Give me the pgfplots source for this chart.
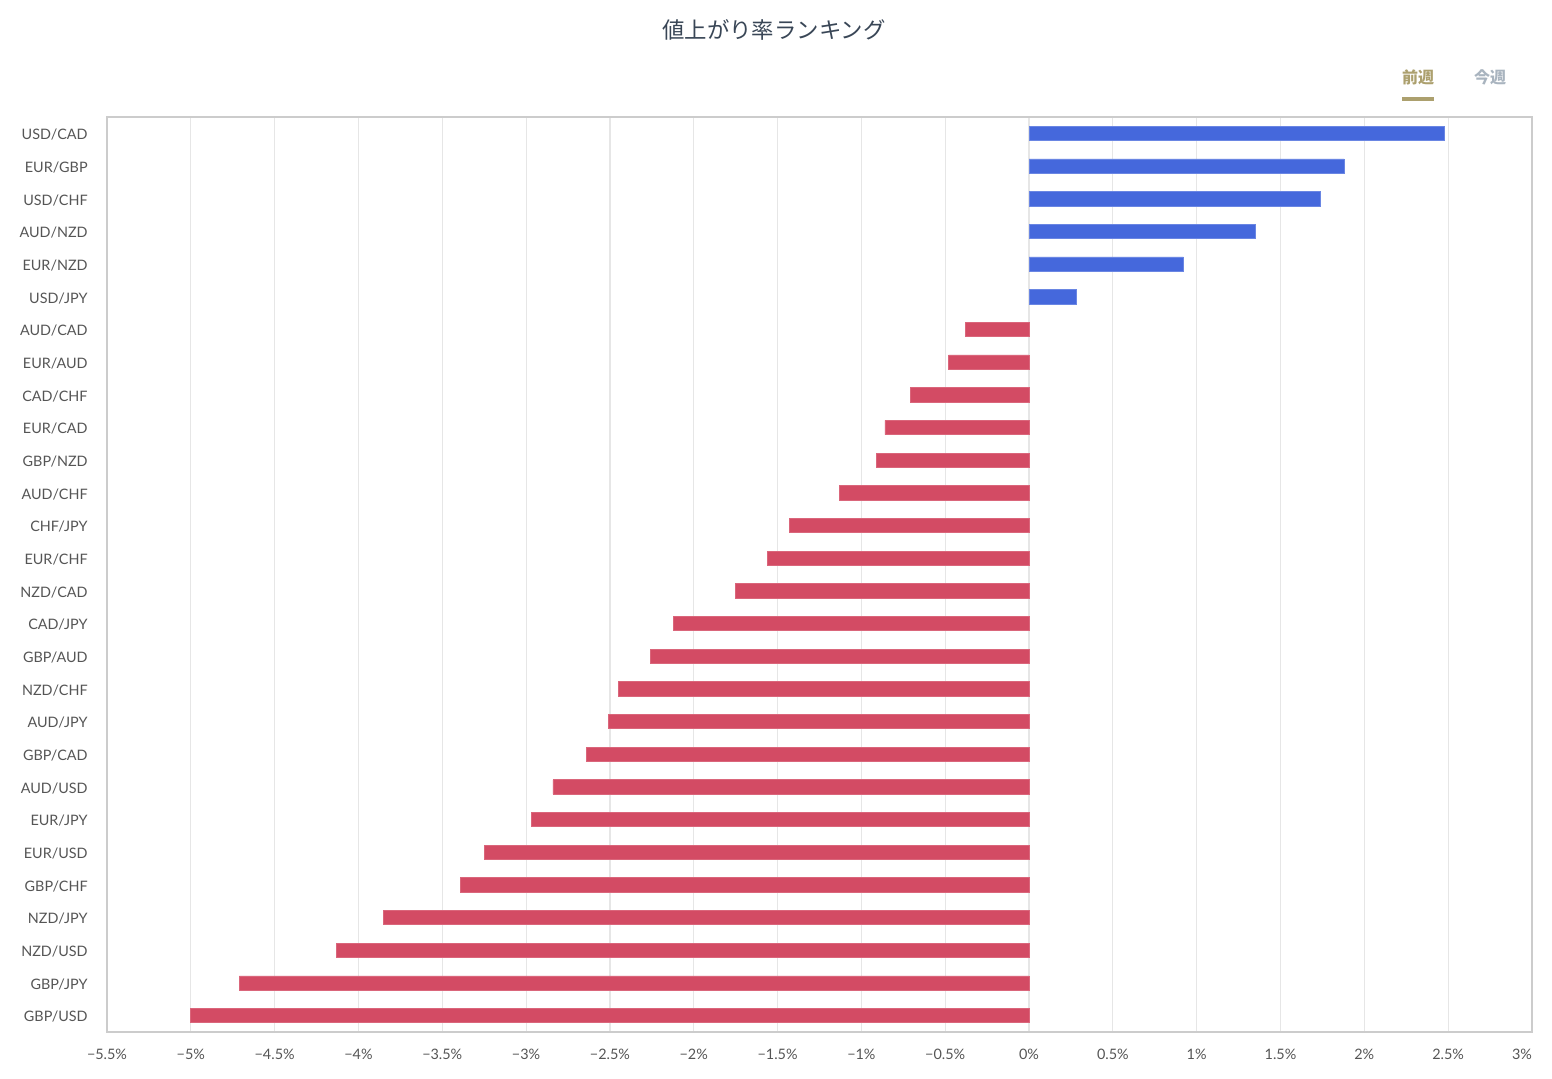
\documentclass[border=0pt]{standalone}
\usepackage{pgfplots}
\pgfplotsset{compat=1.18}
\usepackage{fontspec}
\setmainfont{Lato}
\newfontfamily\cjk{Noto Sans CJK JP}
\definecolor{barblue}{HTML}{4568DC}
\definecolor{barred}{HTML}{D34B64}
\definecolor{gridc}{HTML}{E6E6E6}
\definecolor{axc}{HTML}{CCCCCC}
\definecolor{tickc}{HTML}{555555}
\definecolor{titlec}{HTML}{394656}
\definecolor{goldc}{HTML}{ACA06E}
\definecolor{grayc}{HTML}{A9B4BF}
\begin{document}
\begin{tikzpicture}[x=0.75pt,y=0.75pt]
\path[use as bounding box] (0,0) rectangle (1552,1078);
\node[font=\cjk\fontsize{16.8}{20}\selectfont, text=titlec] at (774,1048) {値上がり率ランキング};
\node[font=\cjk\bfseries\fontsize{12}{14}\selectfont, text=goldc] at (1418,1001) {前週};
\node[font=\cjk\bfseries\fontsize{12}{14}\selectfont, text=grayc] at (1490,1001) {今週};
\fill[goldc] (1402,977) rectangle (1434,981);
\begin{axis}[
  at={(107*0.75pt,46*0.75pt)}, anchor=south west,
  scale only axis, width=1425*0.75pt, height=915*0.75pt,
  xmin=-5.5, xmax=3, ymin=-0.5, ymax=27.5, y dir=reverse,
  xbar, bar width=10.7pt, bar shift=0pt,
  xtick={-5.5,-5,-4.5,-4,-3.5,-3,-2.5,-2,-1.5,-1,-0.5,0,0.5,1,1.5,2,2.5,3},
  xticklabels={−5.5\%,−5\%,−4.5\%,−4\%,−3.5\%,−3\%,−2.5\%,−2\%,−1.5\%,−1\%,−0.5\%,0\%,0.5\%,1\%,1.5\%,2\%,2.5\%,\makebox[0pt][r]{3\%}},
  ytick={0,...,27},
  yticklabels={USD/CAD,EUR/GBP,USD/CHF,AUD/NZD,EUR/NZD,USD/JPY,AUD/CAD,EUR/AUD,CAD/CHF,EUR/CAD,GBP/NZD,AUD/CHF,CHF/JPY,EUR/CHF,NZD/CAD,CAD/JPY,GBP/AUD,NZD/CHF,AUD/JPY,GBP/CAD,AUD/USD,EUR/JPY,EUR/USD,GBP/CHF,NZD/JPY,NZD/USD,GBP/JPY,GBP/USD},
  major tick length=0pt,
  xmajorgrids, grid style={gridc, line width=0.9pt},
  axis line style={axc, line width=1pt},
  tick label style={font=\fontsize{10.8}{12}\selectfont, text=tickc},
  xticklabel style={yshift=-9pt},
  yticklabel style={xshift=-11pt, yshift=-1pt},
]
\addplot[fill=barblue, draw=barblue!80!white, line width=0.5pt] coordinates {
(2.48,0) (1.88,1) (1.74,2) (1.35,3) (0.92,4) (0.28,5)};
\addplot[fill=barred, draw=barred!85!white, line width=0.5pt] coordinates {
(-0.38,6) (-0.48,7) (-0.71,8) (-0.86,9) (-0.91,10) (-1.13,11) (-1.43,12) (-1.56,13) (-1.75,14) (-2.12,15) (-2.26,16) (-2.45,17) (-2.51,18) (-2.64,19) (-2.84,20) (-2.97,21) (-3.25,22) (-3.39,23) (-3.85,24) (-4.13,25) (-4.71,26) (-5.00,27)};
\end{axis}
\end{tikzpicture}
\end{document}
